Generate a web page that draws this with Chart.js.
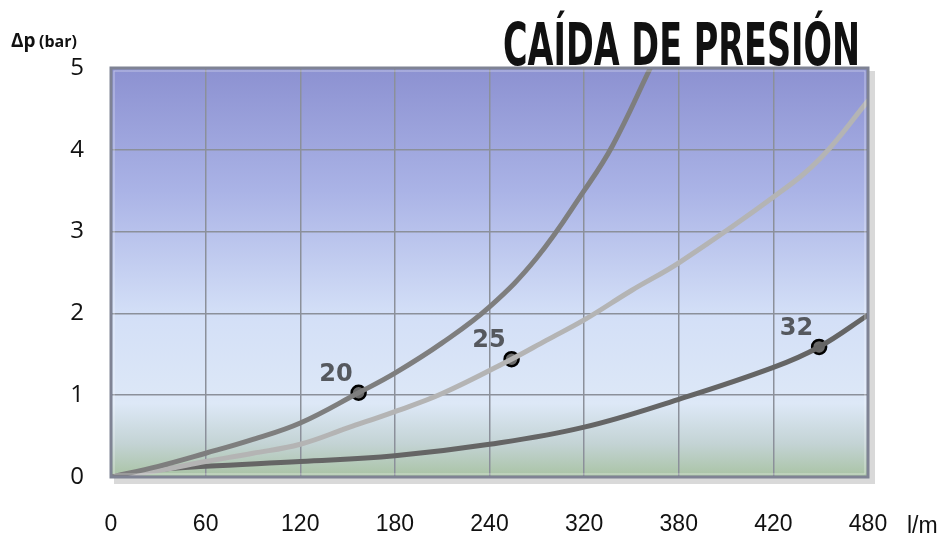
<!DOCTYPE html>
<html lang="es">
<head>
  <meta charset="UTF-8">
  <title>Caída de presión</title>
  <script src="https://cdn.jsdelivr.net/npm/chart.js"></script>
  <style>
    html, body { margin: 0; padding: 0; background: #fff; }
    #wrap { width: 945px; height: 538px; }
  </style>
</head>
<body>
  <div id="wrap"><canvas id="chart" width="945" height="538"></canvas></div>
  <script>
    // x is drawn on an even 60-step grid, but the printed labels are uneven
    const xTickLabels = ['0', '60', '120', '180', '240', '320', '380', '420', '480'];
    const yTicks = [0, 1, 2, 3, 4, 5];

    const curve20 = [[0, 0], [30, 0.13], [60, 0.29], [90, 0.46], [120, 0.66], [157, 1.03], [180, 1.27],
      [210, 1.64], [240, 2.08], [270, 2.68], [300, 3.5], [318, 4.05], [342, 5.0]];
    const curve25 = [[0, 0], [30, 0.08], [60, 0.19], [90, 0.29], [120, 0.4], [150, 0.6], [180, 0.8],
      [210, 1.02], [254, 1.44], [276, 1.67], [300, 1.92], [330, 2.28], [361, 2.63], [422, 3.45], [450, 3.9], [480, 4.6]];
    const curve32 = [[0, 0], [25, 0.08], [60, 0.13], [120, 0.19], [180, 0.26], [240, 0.4], [300, 0.61],
      [360, 0.95], [420, 1.34], [449, 1.59], [480, 1.98]];

    const markerLabels = ['20', '25', '32'];
    const markerX = [157, 254, 449];
    const markerY = [1.03, 1.44, 1.59];

    const toPts = arr => arr.map(p => ({ x: p[0], y: p[1] }));

    const lineSet = (label, data, color) => ({
      type: 'line', label, data: toPts(data), borderColor: color, borderWidth: 5,
      pointRadius: 0, fill: false, tension: 0.4, borderCapStyle: 'round'
    });

    const decor = {
      id: 'decor',
      beforeDraw(chart) {
        const { ctx, chartArea: a } = chart;
        ctx.save();
        // drop shadow of the frame
        ctx.fillStyle = 'rgba(0,0,0,0.15)';
        ctx.fillRect(a.left + 3, a.top + 3, a.right - a.left + 4, a.bottom - a.top + 4);
        const g = ctx.createLinearGradient(0, a.top, 0, a.bottom);
        g.addColorStop(0, '#8c91d1');
        g.addColorStop(0.3, '#aab3e6');
        g.addColorStop(0.6, '#d3dff7');
        g.addColorStop(0.82, '#dde8f7');
        g.addColorStop(0.92, '#c3d3d4');
        g.addColorStop(1, '#a9c3a4');
        ctx.fillStyle = g;
        ctx.fillRect(a.left, a.top, a.right - a.left, a.bottom - a.top);
        ctx.restore();
      },
      afterDatasetsDraw(chart) {
        const { ctx, chartArea: a } = chart;
        ctx.save();
        ctx.strokeStyle = '#7f8394';
        ctx.lineWidth = 3;
        ctx.strokeRect(a.left, a.top, a.right - a.left, a.bottom - a.top);
        ctx.strokeStyle = 'rgba(255,255,255,0.45)';
        ctx.lineWidth = 1;
        ctx.strokeRect(a.left + 3, a.top + 3, a.right - a.left - 6, a.bottom - a.top - 6);

        // marker labels
        const meta = chart.getDatasetMeta(3);
        ctx.fillStyle = '#55585e';
        ctx.font = 'bold 24px "DejaVu Sans"';
        ctx.textAlign = 'right';
        ctx.textBaseline = 'alphabetic';
        meta.data.forEach((pt, i) => {
          ctx.fillText(markerLabels[i], pt.x - 6, pt.y - 12);
        });

        // title, squeezed to a condensed look
        ctx.fillStyle = '#111';
        ctx.font = 'bold 59px "DejaVu Sans"';
        ctx.textAlign = 'left';
        const title = 'CAÍDA DE PRESIÓN';
        const w = ctx.measureText(title).width;
        ctx.translate(503, 65);
        ctx.scale(357 / w, 1);
        ctx.fillText(title, 0, 0);
        ctx.restore();

        // axis captions
        ctx.save();
        ctx.fillStyle = '#111';
        ctx.textBaseline = 'alphabetic';
        ctx.font = 'bold 19px "Open Sans"';
        ctx.fillText('Δp', 11, 47);
        ctx.font = 'bold 16px "Open Sans"';
        ctx.fillText('(bar)', 39, 47);
        ctx.font = '23px "Liberation Sans"';
        ctx.fillText('l/m', 907, 533);
        ctx.restore();
      }
    };

    new Chart(document.getElementById('chart'), {
      data: {
        datasets: [
          lineSet('20', curve20, '#7e7e7e'),
          lineSet('25', curve25, '#b4b4b4'),
          lineSet('32', curve32, '#656565'),
          {
            type: 'scatter', label: 'markers',
            data: markerX.map((x, i) => ({ x, y: markerY[i] })),
            pointRadius: 7, pointBackgroundColor: '#6a6a6a', pointBorderColor: '#000', pointBorderWidth: 2.5
          }
        ]
      },
      options: {
        responsive: false,
        animation: false,
        layout: { padding: { left: 0, top: 68, right: 77, bottom: 0 } },
        plugins: { legend: { display: false }, tooltip: { enabled: false } },
        scales: {
          x: {
            type: 'linear', min: 0, max: 480,
            afterFit: s => { s.height = 61; },
            afterBuildTicks: s => { s.ticks = xTickLabels.map((_, i) => ({ value: i * 60 })); },
            ticks: { callback: (v, i) => xTickLabels[i], padding: 34, color: '#111', font: { family: 'Liberation Sans', size: 23 } },
            grid: { color: '#8b909a', lineWidth: 1.5, drawTicks: false },
            border: { display: false }
          },
          y: {
            min: 0, max: 5,
            afterFit: s => { s.width = 111; },
            afterBuildTicks: s => { s.ticks = yTicks.map(v => ({ value: v })); },
            ticks: { padding: 27, color: '#111', font: { family: 'Open Sans', size: 24 } },
            grid: { color: '#8b909a', lineWidth: 1.5, drawTicks: false },
            border: { display: false }
          }
        }
      },
      plugins: [decor]
    });
  </script>
</body>
</html>
